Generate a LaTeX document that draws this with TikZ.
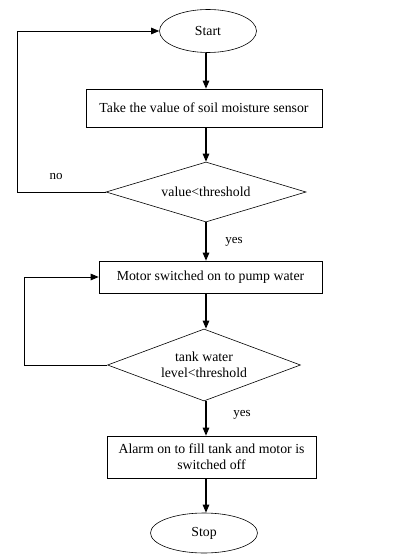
\documentclass[tikz,border=0pt]{standalone}
\usepackage{fontspec}
\setmainfont{Liberation Serif}
\usetikzlibrary{shapes.geometric,arrows.meta}
\begin{document}
\begin{tikzpicture}[x=1pt,y=-1pt,
  every node/.style={font=\fontsize{13.8}{16}\selectfont, text=black},
  term/.style={draw, ellipse, line width=0.6pt, inner sep=0pt},
  proc/.style={draw, rectangle, line width=0.6pt, inner sep=0pt, align=center},
  dec/.style={draw, diamond, line width=0.6pt, inner sep=0pt, align=center},
  flow/.style={line width=1.1pt, -{Triangle[length=8pt,width=6.5pt]}},
  loopl/.style={line width=0.9pt, -{Triangle[length=8pt,width=6.5pt]}},
  lbl/.style={font=\fontsize{13}{15}\selectfont}]
\useasboundingbox (0,0) rectangle (409,559);
\node[term, minimum width=97pt, minimum height=43pt] (start) at (208,31) {Start};
\node[proc, minimum width=236pt, minimum height=38pt] (b1) at (204,108) {Take the value of soil moisture sensor};
\node[dec, minimum width=200pt, minimum height=60pt, aspect=3.33] (d1) at (206,192) {value<threshold};
\node[proc, minimum width=223pt, minimum height=32pt] (b2) at (210.5,277) {Motor switched on to pump water};
\node[dec, minimum width=193pt, minimum height=72pt, aspect=2.68] (d2) at (204,365) {tank water\\level<threshold};
\node[proc, minimum width=209pt, minimum height=42pt] (b3) at (211.5,457) {Alarm on to fill tank and motor is\\switched off};
\node[term, minimum width=107pt, minimum height=40pt] (stop) at (204,533) {Stop};
\coordinate (l1) at (17,192);
\coordinate (l2) at (24,365);
\coordinate (x) at (206,0);
\draw[flow] (start.south -| x) -- (b1.north -| x);
\draw[flow] (b1.south -| x) -- (d1.north -| x);
\draw[flow] (d1.south -| x) -- (b2.north -| x);
\draw[flow] (b2.south -| x) -- (d2.north -| x);
\draw[flow] (d2.south -| x) -- (b3.north -| x);
\draw[flow] (b3.south -| x) -- (stop.north -| x);
\draw[loopl] (d1.west) -- (l1) |- (start.west);
\draw[loopl] (d2.west) -- (l2) |- (b2.west);
\node[lbl] (no) at (56,176) {no};
\node[lbl] (y1) at (234,242) {yes};
\node[lbl] (y2) at (242,415) {yes};
\end{tikzpicture}
\end{document}
